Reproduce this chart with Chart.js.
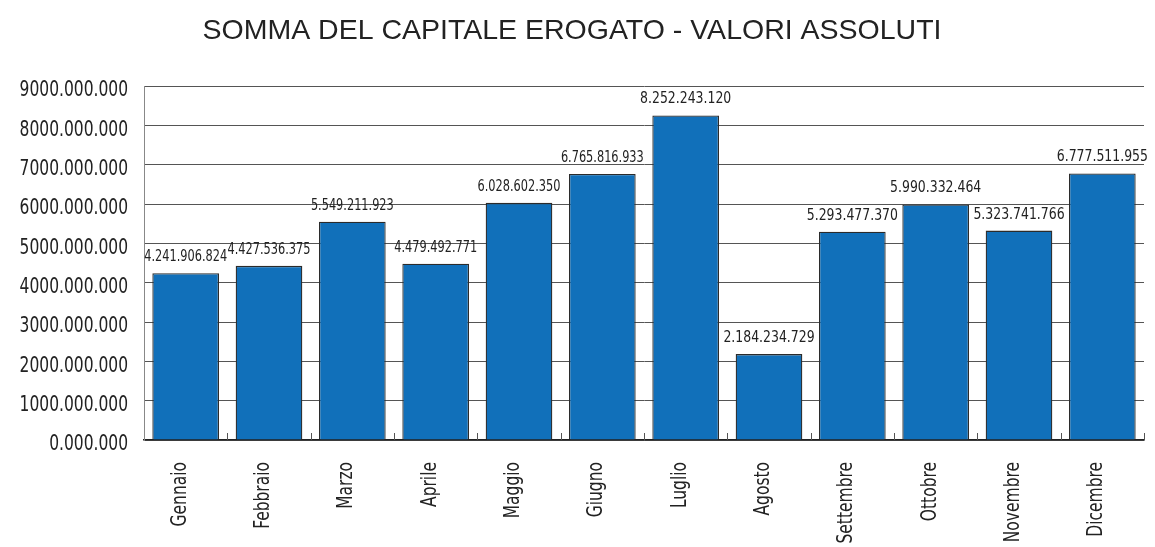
<!DOCTYPE html>
<html>
<head>
<meta charset="utf-8">
<script src="https://cdn.jsdelivr.net/npm/chart.js@4"></script>
<style>
  html, body { margin: 0; padding: 0; background: #fff; }
  #wrap { width: 1155px; height: 547px; }
</style>
</head>
<body>
<div id="wrap"><canvas id="barChart" width="1155" height="547"></canvas></div>
<script>
const mesi = ['Gennaio', 'Febbraio', 'Marzo', 'Aprile', 'Maggio', 'Giugno', 'Luglio', 'Agosto', 'Settembre', 'Ottobre', 'Novembre', 'Dicembre'];
const capitale = [4241906824, 4427536375, 5549211923, 4479492771, 6028602350, 6765816933, 8252243120, 2184234729, 5293477370, 5990332464, 5323741766, 6777511955];
const yMax = 9000000000;
const yStep = 1000000000;

const condensed = '"DejaVu Sans Condensed", "DejaVu Sans", sans-serif';
const squeeze = 0.82; // the original font is a narrow one

function puntini(n) {
  return String(n).replace(/\B(?=(\d{3})+(?!\d))/g, '.');
}

function yLabel(v) {
  return (v / 1000000) + '.000.000';
}

// etichette sopra le barre
const valueLabels = {
  id: 'valueLabels',
  afterDatasetsDraw(chart) {
    const ctx = chart.ctx;
    const meta = chart.getDatasetMeta(0);
    ctx.fillStyle = '#222';
    ctx.textAlign = 'center';
    ctx.textBaseline = 'alphabetic';
    meta.data.forEach(function (bar, i) {
      const size = i < 6 ? 15 : 16.5;
      ctx.save();
      ctx.font = size + 'px ' + condensed;
      ctx.translate(bar.x, bar.y - 12);
      ctx.scale(squeeze + 0.02, 1);
      ctx.fillText(puntini(capitale[i]), 0, 0);
      ctx.restore();
    });
  }
};

// tacche tra le categorie + testi degli assi in carattere stretto
const axisText = {
  id: 'axisText',
  afterDraw(chart) {
    const ctx = chart.ctx;
    const x = chart.scales.x;
    const y = chart.scales.y;
    const area = chart.chartArea;
    const half = (x.getPixelForValue(1) - x.getPixelForValue(0)) / 2;

    ctx.save();
    ctx.strokeStyle = '#555';
    ctx.lineWidth = 1;
    for (let i = 0; i < mesi.length; i++) {
      const px = Math.round(x.getPixelForValue(i) + half) + 0.5;
      ctx.beginPath();
      ctx.moveTo(px, area.bottom);
      ctx.lineTo(px, area.bottom - 7);
      ctx.stroke();
    }
    ctx.restore();

    ctx.fillStyle = '#222';
    ctx.font = '21px ' + condensed;
    y.ticks.forEach(function (t) {
      ctx.save();
      ctx.translate(area.left - 16, y.getPixelForValue(t.value) + 5);
      ctx.scale(squeeze, 1);
      ctx.textAlign = 'right';
      ctx.textBaseline = 'middle';
      ctx.fillText(yLabel(t.value), 0, 0);
      ctx.restore();
    });

    mesi.forEach(function (m, i) {
      ctx.save();
      ctx.translate(x.getPixelForValue(i), area.bottom + 22);
      ctx.rotate(-Math.PI / 2);
      ctx.scale(squeeze, 1);
      ctx.textAlign = 'right';
      ctx.textBaseline = 'alphabetic';
      ctx.fillText(m, 0, 0);
      ctx.restore();
    });
  }
};

new Chart(document.getElementById('barChart'), {
  type: 'bar',
  data: {
    labels: mesi,
    datasets: [{
      data: capitale,
      backgroundColor: '#1170ba',
      borderColor: '#2b2b2b',
      borderWidth: 1.3,
      borderSkipped: 'bottom',
      barPercentage: 0.8,
      categoryPercentage: 1.0
    }]
  },
  options: {
    responsive: false,
    animation: false,
    layout: { padding: { top: 0, right: 11, left: 0, bottom: 0 } },
    plugins: {
      legend: { display: false },
      tooltip: { enabled: false },
      title: {
        display: true,
        text: 'SOMMA DEL CAPITALE EROGATO - VALORI ASSOLUTI',
        color: '#222',
        font: { family: '"Liberation Sans", Arial, sans-serif', size: 28.5, weight: 'normal' },
        padding: { top: 14, bottom: 37.8 }
      }
    },
    scales: {
      x: {
        grid: { display: false },
        border: { display: true, color: '#222', width: 1.5 },
        ticks: { display: false },
        afterFit(scale) { scale.height = 107; }
      },
      y: {
        min: 0,
        max: yMax,
        grid: { color: '#555', lineWidth: 1, drawTicks: false },
        border: { display: true, color: '#888', width: 1 },
        ticks: { display: false, stepSize: yStep },
        afterFit(scale) { scale.width = 144; }
      }
    }
  },
  plugins: [valueLabels, axisText]
});
</script>
</body>
</html>
